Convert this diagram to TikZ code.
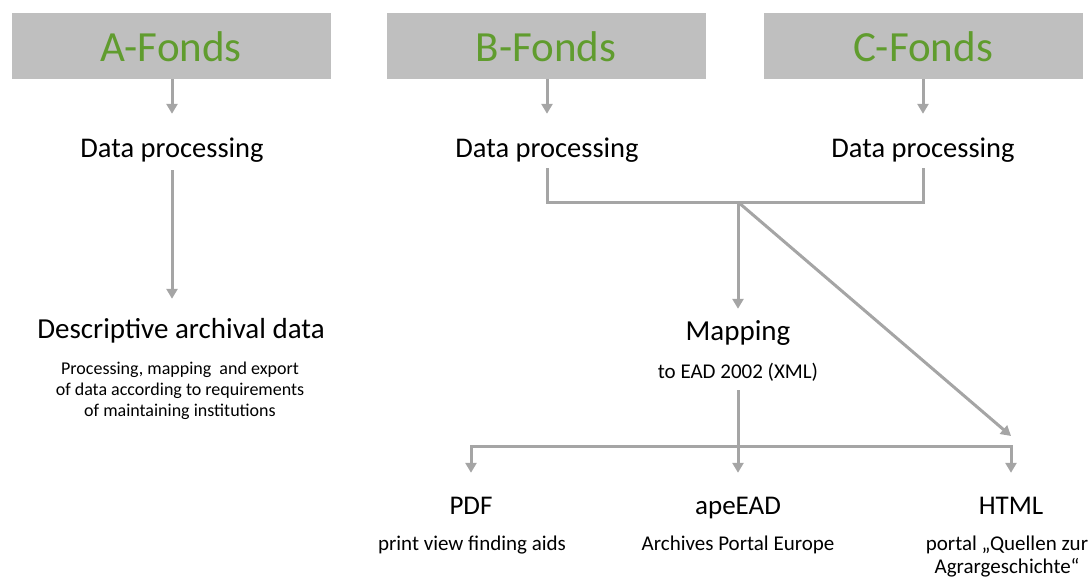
\documentclass[tikz,border=0pt]{standalone}
\usepackage{fontspec}
\setmainfont{Carlito}
\usepackage{tikz}
\usetikzlibrary{arrows.meta,positioning,calc}
\definecolor{boxgray}{RGB}{191,191,191}
\definecolor{linegray}{RGB}{165,165,165}
\definecolor{fondsgreen}{RGB}{96,156,46}
\begin{document}
\begin{tikzpicture}[x=1pt,y=-1pt,
  fonds/.style={fill=boxgray,minimum width=319pt,minimum height=66pt,inner sep=0pt,
    text=fondsgreen,text height=31pt,text depth=0pt,font=\fontsize{43}{50}\selectfont},
  head/.style={anchor=base,inner sep=0pt,text height=20pt,text depth=6pt,font=\fontsize{28.5}{34}\selectfont},
  outp/.style={anchor=base,inner sep=0pt,text height=19pt,text depth=6pt,font=\fontsize{27}{32}\selectfont},
  note/.style={anchor=base,inner sep=0pt,align=center,font=\fontsize{21}{23}\selectfont},
  line/.style={draw=linegray,line width=3pt},
  conn/.style={line,-{Triangle[width=11pt,length=10pt]}}]
  \useasboundingbox (0,0) rectangle (1090,579);
  \node[fonds] (fondsA) at (171,46) {A-Fonds};
  \node[fonds] (fondsB) at (546,46) {B-Fonds};
  \node[fonds] (fondsC) at (923,46) {C-Fonds};
  \node[head] (procA) at (172,157) {Data processing};
  \node[head] (procB) at (547,157) {Data processing};
  \node[head] (procC) at (923,157) {Data processing};
  \node[head,font=\fontsize{29}{34}\selectfont] (descr) at (181,338) {Descriptive archival data};
  \node[note,font=\fontsize{18}{21}\selectfont] (descrnote) at (180,416)
    {Processing, mapping\ \ and export\\of data according to requirements\\of maintaining institutions};
  \node[head,font=\fontsize{29}{34}\selectfont] (map) at (738,340) {Mapping};
  \node[note,text depth=5pt] (mapnote) at (738,378) {to EAD 2002 (XML)};
  \node[outp] (pdf) at (471,514) {PDF};
  \node[outp] (ape) at (738,514) {apeEAD};
  \node[outp] (html) at (1011,514) {HTML};
  \node[note] (pdfnote) at (472,550) {print view finding aids};
  \node[note] (apenote) at (738,550) {Archives Portal Europe};
  \node[note] (htmlnote) at (1007,573) {portal „Quellen zur\\Agrargeschichte“};
  \coordinate (join) at (738,202);
  \coordinate (dist) at (738,446);
  \coordinate (webin) at (1011,436);
  \draw[conn,shorten >=23pt] (fondsA.south -| procA) -- (procA.north);
  \draw[conn,shorten >=23pt] (fondsB.south -| procB) -- (procB.north);
  \draw[conn,shorten >=23pt] (fondsC.south -| procC) -- (procC.north);
  \draw[conn,shorten <=7pt,shorten >=19pt] (procA.south) -- (procA.south |- descr.north);
  \draw[line,shorten <=5pt,shorten >=5pt] (procB.south) |- (join) -| (procC.south);
  \draw[conn,shorten >=11pt] (join) -- (map.north);
  \draw[conn] (join) -- (webin);
  \draw[line,shorten <=7pt] (mapnote.south) -- (dist);
  \draw[conn,shorten >=22pt] (dist) -| (pdf.north);
  \draw[conn,shorten >=22pt] (dist) -- (ape.north);
  \draw[conn,shorten >=22pt] (dist) -| (html.north);
\end{tikzpicture}
\end{document}
